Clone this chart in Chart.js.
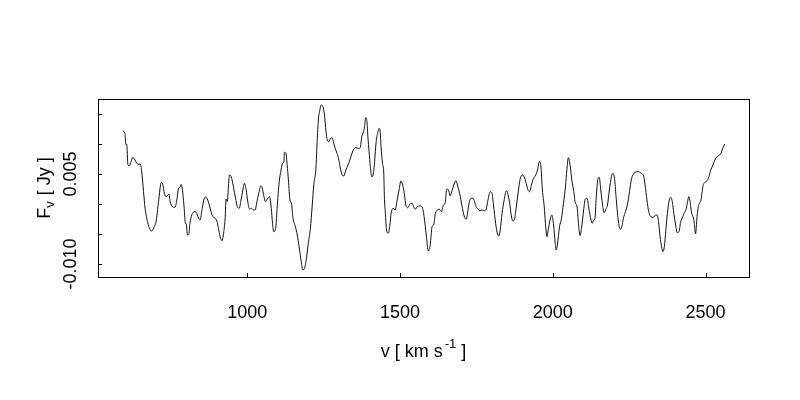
<!DOCTYPE html>
<html>
<head>
<meta charset="utf-8">
<script src="https://cdn.jsdelivr.net/npm/chart.js@4"></script>
<style>
  body { margin: 0; background: #fff; }
  #wrap { width: 800px; height: 400px; }
</style>
</head>
<body>
<div id="wrap"><canvas id="spec" width="800" height="400"></canvas></div>
<script>
// velocity (km/s) and flux density (Jy)
const velocity = [
  593,600,603,606,610,615,620,626,633,639,646,650,655,661,666,674,683,688,696,702,
  710,719,724,729,735,741,744,748,755,764,770,775,781,784,788,794,798,800,805,809,
  813,819,827,833,841,846,853,859,865,871,879,885,892,901,907,913,918,922,928,931,
  935,939,942,948,955,962,968,974,979,986,991,997,1002,1008,1014,1021,1026,1032,1038,1045,
  1049,1055,1060,1066,1073,1079,1083,1087,1094,1098,1105,1111,1116,1120,1122,1127,1131,1135,1140,1145,
  1150,1157,1164,1170,1177,1182,1187,1194,1200,1207,1213,1218,1225,1229,1233,1238,1242,1248,1253,1258,
  1262,1267,1273,1278,1282,1288,1294,1299,1304,1311,1316,1323,1330,1336,1343,1349,1356,1364,1370,1375,
  1381,1384,1388,1392,1395,1399,1403,1408,1412,1417,1422,1428,1432,1435,1438,1443,1447,1449,1452,1456,
  1462,1467,1471,1478,1484,1491,1497,1503,1508,1515,1519,1526,1532,1539,1545,
  1550,1557,1566,1573,1579,1586,1593,1599,1605,1610,1616,1623,1629,1636,1642,1648,1653,1660,1664,1671,
  1677,1683,1688,1695,1703,1710,1717,1721,1726,1733,1739,1744,1749,1756,1762,1769,1776,1782,1788,1795,
  1801,1806,1813,1819,1824,1828,1834,1841,1848,1852,1859,1864,1869,1874,1880,1887,1893,1900,1906,1913,
  1919,1924,1930,1937,1943,1950,1956,1961,1966,1972,1976,1981,1985,1991,1997,2002,2008,2011,2015,2022,
  2028,2035,2042,2046,2051,2057,
  2063,2068,2074,2079,2084,2089,2094,2101,2106,2112,2118,2125,2129,2133,2138,2142,2148,2152,2157,2163,
  2168,2175,2179,2185,2192,2196,2202,2207,2214,2221,2226,2231,2238,2244,2251,2258,2264,2272,2280,2289,
  2297,2302,2308,2314,2321,2328,2335,2341,2346,2351,2356,2360,2365,2370,2375,2381,2386,2391,2396,2402,
  2407,2413,2418,2425,2431,2437,2441,2445,2450,2454,2459,2463,2467,2472,2476,2480,2485,2488,2491,2495,
  2504,2511,2517,2524,2530,2537,2543,2550,2556,2563
];
const flux = [
  0.01217,0.01178,0.00995,0.00995,0.0065,0.00638,0.00705,0.00778,0.00733,0.00678,
  0.00662,0.00667,0.00538,0.00205,-0.00072,-0.00295,-0.00433,-0.0045,-0.00378,-0.00295,
  0.00038,0.00355,0.00328,0.00178,0.00122,0.0015,0.00167,0.00038,-0.00045,-0.00055,
  0.00067,0.0025,0.00288,0.00328,0.0025,-0.00072,-0.00322,-0.00322,-0.00517,-0.00505,
  -0.00322,-0.00183,-0.00128,-0.00138,-0.00238,-0.00267,-0.00072,0.00083,0.00117,0.00067,
  -0.00072,-0.00183,-0.00228,-0.00283,-0.00433,-0.00572,-0.00612,-0.00517,-0.00238,0.00083,
  0.00038,0.00317,0.00483,0.00455,0.00288,0.00095,-0.00045,-0.00072,0.00038,0.00233,
  0.00345,0.00233,0.00038,-0.00083,-0.00072,-0.001,-0.001,0.00038,0.00178,0.00305,
  0.00272,0.00122,0.00038,0.00083,0.00122,
  -0.00072,-0.00322,-0.00462,-0.00378,-0.00072,0.00372,0.00567,0.00678,0.00705,0.00862,
  0.00845,0.0065,0.004,0.00067,0.00012,-0.00238,-0.00362,-0.00517,-0.00712,-0.00962,
  -0.011,-0.01083,-0.00905,-0.00655,-0.00405,-0.00017,0.00317,0.00595,0.01038,0.014,
  0.01567,0.0165,0.01622,0.01483,0.01205,0.01067,0.01038,0.01095,0.01105,0.01038,
  0.00928,0.00845,0.00762,0.00622,0.00483,0.00467,0.00567,0.0065,0.00733,0.00845,
  0.00917,0.00938,0.00928,0.00938,0.01122,0.01205,0.01288,0.01438,0.01372,0.01122,
  0.00872,0.00622,0.00455,0.00483,0.00705,0.01038,0.01205,0.01262,0.01217,0.00955,
  0.00678,0.00512,0.00122,-0.00138,-0.00433,-0.00488,-0.0035,-0.00155,-0.00072,-0.001,
  0.00067,0.00233,0.00383,0.00328,0.0015,-0.00017,-0.00062,-0.00005,0.00012,-0.00045,
  -0.00088,-0.00045,-0.00033,-0.00055,-0.00212,-0.00517,-0.00783,-0.00683,-0.00378,-0.0035,
  -0.00155,-0.001,-0.00088,-0.00128,-0.00017,0.00022,0.0025,0.00217,0.00133,0.00233,
  0.00333,0.00388,0.00317,0.00178,-0.00033,-0.002,-0.00255,-0.00155,0.00012,0.00095,
  0.00095,0.00038,-0.00045,-0.00088,-0.00112,-0.001,-0.00112,-0.00088,0.00067,0.00205,
  0.00178,-0.00017,-0.00322,-0.005,-0.00533,-0.00433,-0.00155,0.00067,0.00222,0.00188,
  0.00012,-0.00183,-0.00283,-0.00267,-0.00072,0.00205,0.00412,0.00483,0.00455,0.00345,
  0.00233,0.00205,0.00317,0.00428,0.00467,0.00567,0.00705,0.00633,0.00233,-0.00045,
  -0.00322,-0.00545,-0.00433,-0.00267,-0.00183,-0.00322,-0.00655,-0.00767,-0.00683,-0.00378,
  -0.00255,0.00012,0.00317,0.00567,0.00772,0.00633,
  0.00372,0.00233,0.00012,-0.00033,-0.00322,-0.00528,-0.00405,-0.001,0.00078,0.00095,
  -0.00072,-0.00267,-0.00322,-0.00278,-0.00238,0.00095,0.00428,0.00445,0.00233,-0.00017,
  -0.00145,-0.00072,-0.00017,0.00233,0.00455,0.00512,0.00428,0.00122,-0.00267,-0.00422,
  -0.00378,-0.00238,-0.00128,-0.00017,0.00205,0.00428,0.005,0.00533,0.00538,0.00512,
  0.00467,0.00317,0.00067,-0.00128,-0.00212,-0.00222,-0.00188,-0.00183,-0.00295,-0.00545,
  -0.00712,-0.00795,-0.00712,-0.00433,-0.00155,0.00067,0.00112,0.00038,-0.00155,-0.0035,
  -0.00478,-0.00462,-0.00312,-0.00212,-0.00145,-0.00072,0.00038,0.00122,0.00012,-0.00145,
  -0.00212,-0.00322,-0.005,-0.00212,-0.00045,0.00012,0.00067,0.00178,0.00288,0.00345,
  0.00383,0.00455,0.00567,0.0065,0.00733,0.00788,0.00805,0.00845,0.00928,0.01
];

const xTicks = [1000, 1500, 2000, 2500];
const yTicks = [-0.010, -0.005, 0, 0.005, 0.010, 0.015];
const yLabelValues = [-0.010, 0.005];
const yLabels = ['-0.010', '0.005'];

const FONT = "'Liberation Sans', Arial, sans-serif";

// draws pieces of text one after another, centred on the origin
function drawPieces(ctx, pieces) {
  let total = 0;
  pieces.forEach(p => {
    ctx.font = p.size + 'px ' + FONT;
    p.w = ctx.measureText(p.text).width;
    total += p.w + (p.gap || 0);
  });
  let x = -total / 2;
  pieces.forEach(p => {
    x += p.gap || 0;
    ctx.font = p.size + 'px ' + FONT;
    ctx.fillText(p.text, x, p.dy || 0);
    x += p.w;
  });
}

// R-like frame: box, inward ticks, rotated y labels and axis titles
const rFrame = {
  id: 'rFrame',
  afterDraw(chart) {
    const ctx = chart.ctx;
    const a = chart.chartArea;
    const xs = chart.scales.x;
    const ys = chart.scales.y;
    ctx.save();
    ctx.strokeStyle = '#000';
    ctx.lineWidth = 1;
    ctx.strokeRect(Math.round(a.left) + 0.5, Math.round(a.top) + 0.5,
      Math.round(a.right - a.left), Math.round(a.bottom - a.top));

    ctx.beginPath();
    xTicks.forEach(v => {
      const px = Math.round(xs.getPixelForValue(v)) + 0.5;
      ctx.moveTo(px, Math.round(a.bottom));
      ctx.lineTo(px, Math.round(a.bottom) - 4);
    });
    yTicks.forEach(v => {
      const py = Math.round(ys.getPixelForValue(v)) + 0.5;
      ctx.moveTo(Math.round(a.left), py);
      ctx.lineTo(Math.round(a.left) + 4, py);
    });
    ctx.stroke();

    ctx.fillStyle = '#000';
    ctx.textAlign = 'center';
    ctx.textBaseline = 'alphabetic';
    ctx.font = '18px ' + FONT;
    yLabelValues.forEach((v, i) => {
      ctx.save();
      ctx.translate(76, ys.getPixelForValue(v));
      ctx.rotate(-Math.PI / 2);
      ctx.fillText(yLabels[i], 0, 0);
      ctx.restore();
    });

    ctx.textAlign = 'left';
    ctx.save();
    ctx.translate(50, (a.top + a.bottom) / 2);
    ctx.rotate(-Math.PI / 2);
    drawPieces(ctx, [
      { text: 'F', size: 18 },
      { text: 'v', size: 13, dy: 4 },
      { text: ' [ Jy ]', size: 18, gap: 1 }
    ]);
    ctx.restore();

    ctx.save();
    ctx.translate((a.left + a.right) / 2, 357);
    drawPieces(ctx, [
      { text: 'v [ km s', size: 18 },
      { text: '-1', size: 13, dy: -9, gap: 2 },
      { text: ' ]', size: 18 }
    ]);
    ctx.restore();
    ctx.restore();
  }
};

new Chart(document.getElementById('spec'), {
  type: 'scatter',
  data: {
    datasets: [{
      data: velocity.map((v, i) => ({ x: v, y: flux[i] })),
      showLine: true,
      borderColor: '#111',
      borderWidth: 1,
      pointRadius: 0,
      cubicInterpolationMode: 'monotone'
    }]
  },
  options: {
    responsive: false,
    devicePixelRatio: 1,
    animation: false,
    layout: { padding: { top: 99, right: 51, left: 0, bottom: 0 } },
    plugins: { legend: { display: false }, tooltip: { enabled: false } },
    scales: {
      x: {
        type: 'linear',
        min: 512,
        max: 2642,
        afterBuildTicks: s => { s.ticks = xTicks.map(v => ({ value: v })); },
        afterFit: s => { s.height = 123; },
        grid: { display: false, drawTicks: false },
        border: { display: false },
        ticks: {
          padding: 25,
          color: '#000',
          font: { family: FONT, size: 18 },
          maxRotation: 0,
          callback: v => String(v)
        }
      },
      y: {
        type: 'linear',
        min: -0.01217,
        max: 0.0175,
        afterFit: s => { s.width = 98; },
        grid: { display: false, drawTicks: false },
        border: { display: false },
        ticks: { display: false }
      }
    }
  },
  plugins: [rFrame]
});
</script>
</body>
</html>
